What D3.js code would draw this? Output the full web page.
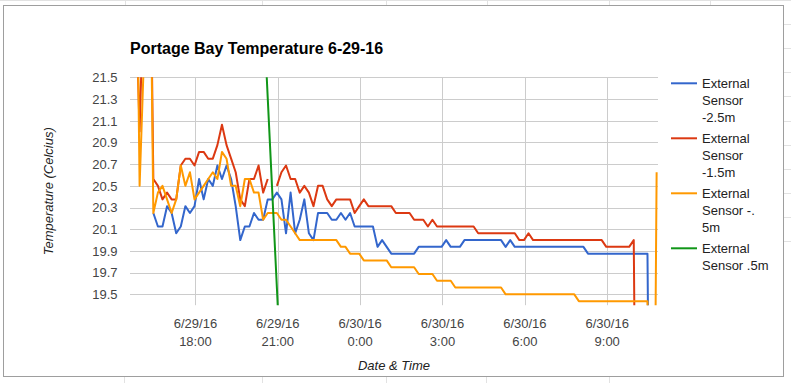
<!DOCTYPE html>
<html><head><meta charset="utf-8">
<script src="https://cdn.jsdelivr.net/npm/d3@7"></script>
<style>
body{margin:0;background:#fff;}
svg{display:block;font-family:Arial,"Liberation Sans",sans-serif;}
</style>
</head><body>
<svg id="c" width="791" height="383"></svg>
<script>
// ---------- data ----------
const chartTitle = "Portage Bay Temperature 6-29-16";
const xTitle = "Date & Time";
const yTitle = "Temperature (Celcius)";
const startTime = "2016-06-29T15:48:00";   // first reading
const stepMinutes = 10;                      // logging interval
const xDomain = ["2016-06-29T15:37:00", "2016-06-30T10:51:00"];
const yDomain = [19.4, 21.5];
const yTicks = [19.5, 19.7, 19.9, 20.1, 20.3, 20.5, 20.7, 20.9, 21.1, 21.3, 21.5];
const seriesNames = ["External Sensor -2.5m", "External Sensor -1.5m", "External Sensor -.5m", "External Sensor .5m"];
const legendLines = [["External","Sensor","-2.5m"],["External","Sensor","-1.5m"],["External","Sensor -.","5m"],["External","Sensor .5m"]];
const seriesColors = ["#3366cc", "#dc3912", "#ff9900", "#109618"];

const blue = [null,null,null,null,
 20.25,20.125,20.125,20.3125,20.25,20.0625,20.125,20.3125,20.25,20.3125,
 20.5625,20.375,20.5625,20.5,20.6875,20.5625,20.6875,20.5625,20.3125,20.0,
 20.125,20.125,20.25,20.1875,20.1875,20.375,20.375,20.4375,20.375,20.0625,
 20.4375,20.0625,20.1875,20.375,20.0625,20.0,20.25,20.25,20.25,20.1875,
 20.1875,20.25,20.1875,20.25,
 20.125,20.125,20.125,20.125,20.125,
 19.9375,20.0,19.9375,
 19.875,19.875,19.875,19.875,19.875,19.875,
 19.9375,19.9375,19.9375,19.9375,19.9375,19.9375,
 20.0,
 19.9375,19.9375,19.9375,
 20.0,20.0,20.0,20.0,20.0,20.0,20.0,20.0,20.0,
 19.9375,20.0,
 19.9375,19.9375,19.9375,19.9375,19.9375,19.9375,19.9375,19.9375,
 19.9375,19.9375,19.9375,19.9375,19.9375,19.9375,19.9375,19.9375,
 19.875,19.875,19.875,19.875,19.875,19.875,19.875,
 19.875,19.875,19.875,19.875,19.875,19.875,19.875,
 15.0,null];

const red = [22.5,21.0,22.5,24.0,
 20.5625,20.5,20.375,20.4375,20.375,20.375,20.6875,20.75,20.75,20.6875,
 20.8125,20.8125,20.75,20.75,20.875,21.0625,20.875,20.75,20.625,20.375,
 20.3125,20.5625,20.5625,20.6875,20.4375,20.5625,null,20.5,20.625,20.6875,
 20.5625,20.5625,20.4375,20.5,20.4375,20.3125,20.5,20.5,20.375,20.3125,
 20.375,20.375,20.375,20.375,20.25,20.3125,20.375,
 20.3125,20.3125,20.3125,20.3125,20.3125,20.3125,
 20.25,20.25,20.25,20.25,
 20.1875,20.1875,20.1875,
 20.125,20.1875,
 20.125,20.125,20.125,20.125,20.125,20.125,20.125,20.125,20.125,
 20.0625,20.0625,20.0625,20.0625,20.0625,20.0625,20.0625,20.0625,20.0625,
 20.0,20.0,20.0625,
 20.0,20.0,20.0,20.0,20.0,20.0,20.0,20.0,
 20.0,20.0,20.0,20.0,20.0,20.0,20.0,20.0,
 19.9375,19.9375,19.9375,19.9375,19.9375,19.9375,
 20.0,15.0,
 null,null,null,null];

const orange = [24.0,20.5,21.75,24.0,
 20.25,20.4375,20.5,20.375,20.25,20.375,20.6875,20.5,20.625,20.375,
 20.4375,20.5,20.5625,20.625,20.5625,20.8125,20.75,20.5,20.5,20.3125,
 20.5625,20.5625,20.4375,20.4375,20.1875,20.25,20.25,20.25,20.1875,20.1875,
 20.125,20.0625,
 20.0,20.0,20.0,20.0,20.0,20.0,20.0,20.0,20.0,
 19.9375,19.9375,
 19.875,19.875,19.875,
 19.8125,19.8125,19.8125,19.8125,19.8125,19.8125,
 19.75,19.75,19.75,19.75,19.75,19.75,
 19.6875,19.6875,19.6875,19.6875,
 19.625,19.625,19.625,19.625,
 19.5625,19.5625,19.5625,19.5625,19.5625,19.5625,19.5625,19.5625,19.5625,19.5625,19.5625,
 19.5,19.5,19.5,19.5,19.5,19.5,19.5,19.5,
 19.5,19.5,19.5,19.5,19.5,19.5,19.5,19.5,
 19.4375,19.4375,19.4375,19.4375,19.4375,19.4375,19.4375,19.4375,
 19.4375,19.4375,19.4375,19.4375,19.4375,19.4375,19.4375,19.4375,
 15.0,20.625];

const green = [22.1875,21.3125,20.4375,19.5625,18.6875];
const seriesValues = [blue, red, orange, green];
const seriesStart = [0, 0, 0, 28];   // index of first reading of each series

// ---------- layout ----------
const W = 791, H = 383;
const plot = {left:130, right:658, top:77.3, bottom:305.2};
const svg = d3.select("#c");
const parse = d3.isoParse;
const t0 = parse(startTime);
const defs = svg.append("defs");

// spreadsheet background
const decor = svg.append("g").attr("stroke","#e2e2e2").attr("stroke-width",1);
decor.append("line").attr("x1",0).attr("x2",W).attr("y1",0.5).attr("y2",0.5);
[125,262,386,487,609,710].forEach(x=>{
  decor.append("line").attr("x1",x+0.5).attr("x2",x+0.5).attr("y1",0).attr("y2",6);
});
[124,262,386,486,609].forEach(x=>{
  decor.append("line").attr("x1",x+0.5).attr("x2",x+0.5).attr("y1",376).attr("y2",H);
});
for(let k=1;k<=10;k++){
  const y = Math.round(24.1*k)+0.5;
  decor.append("line").attr("x1",784).attr("x2",W).attr("y1",y).attr("y2",y);
}

// chart box
svg.append("rect").attr("x",3.5).attr("y",5.5).attr("width",780).attr("height",371)
  .attr("fill","#fff").attr("stroke","#9e9e9e").attr("stroke-width",1);

// scales
const x = d3.scaleTime().domain(xDomain.map(parse)).range([plot.left, plot.right]);
const y = d3.scaleLinear().domain(yDomain).range([plot.bottom, plot.top]);

// gridlines
const grid = svg.append("g").attr("stroke","#cccccc").attr("stroke-width",1);
yTicks.forEach(v=>{
  const yy = Math.round(y(v))+0.5;
  grid.append("line").attr("x1",plot.left).attr("x2",plot.right).attr("y1",yy).attr("y2",yy);
});
const xTicks = x.ticks(d3.timeHour.every(3));
xTicks.forEach(t=>{
  const xx = Math.round(x(t))+0.5;
  grid.append("line").attr("x1",xx).attr("x2",xx).attr("y1",plot.top).attr("y2",plot.bottom);
});

// y tick labels
const yl = svg.append("g").attr("font-size",13).attr("fill","#444").attr("text-anchor","end");
yTicks.forEach(v=>{
  yl.append("text").attr("x",117.5).attr("y",y(v)+4.8).text(d3.format(".1f")(v));
});
// x tick labels
const fDate = d3.timeFormat("%-m/%-d/%y"), fTime = d3.timeFormat("%-H:%M");
const xl = svg.append("g").attr("font-size",13).attr("fill","#444").attr("text-anchor","middle");
xTicks.forEach(t=>{
  xl.append("text").attr("x",x(t)).attr("y",328).text(fDate(t));
  xl.append("text").attr("x",x(t)).attr("y",345.5).text(fTime(t));
});

// titles
svg.append("text").attr("x",130).attr("y",54).attr("font-size",16).attr("font-weight","bold")
  .attr("fill","#000").text(chartTitle);
svg.append("text").attr("x",(plot.left+plot.right)/2).attr("y",369.5).attr("font-size",13)
  .attr("font-style","italic").attr("fill","#222").attr("text-anchor","middle").text(xTitle);
svg.append("text").attr("transform",`translate(53,${(plot.top+plot.bottom)/2}) rotate(-90)`)
  .attr("font-size",13).attr("font-style","italic").attr("fill","#222")
  .attr("text-anchor","middle").text(yTitle);

// series
defs.append("clipPath").attr("id","plotclip").append("rect")
  .attr("x",plot.left).attr("y",plot.top).attr("width",plot.right-plot.left).attr("height",plot.bottom-plot.top);
const line = d3.line().defined(d=>d.v!=null).x(d=>x(d.t)).y(d=>y(d.v));
const lines = svg.append("g").attr("clip-path","url(#plotclip)");
seriesValues.forEach((vals,s)=>{
  const pts = vals.map((v,i)=>({t:d3.timeMinute.offset(t0,(seriesStart[s]+i)*stepMinutes), v}));
  lines.append("path").datum(pts).attr("d",line).attr("fill","none")
    .attr("stroke",seriesColors[s]).attr("stroke-width",2).attr("stroke-linejoin","round");
});

// legend
const lg = svg.append("g");
legendLines.forEach((ls,k)=>{
  const ly = 83.3 + 55*k;
  lg.append("line").attr("x1",671).attr("x2",697).attr("y1",ly).attr("y2",ly)
    .attr("stroke",seriesColors[k]).attr("stroke-width",2);
  ls.forEach((txt,j)=>{
    lg.append("text").attr("x",702).attr("y",ly+5+16.7*j).attr("font-size",13)
      .attr("fill","#222").text(txt);
  });
});
</script>
</body></html>
